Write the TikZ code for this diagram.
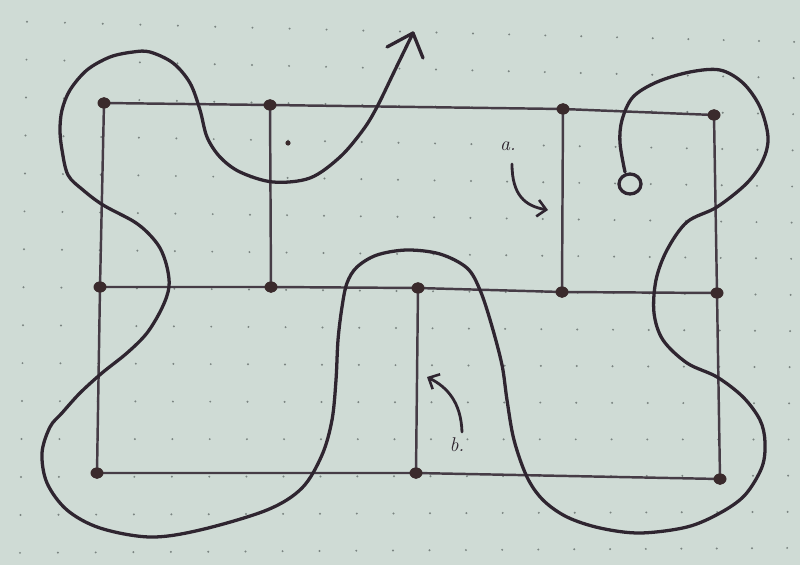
\documentclass[tikz,border=0pt]{standalone}
\usetikzlibrary{arrows.meta}
\definecolor{paper}{HTML}{CFDBD5}
\definecolor{griddot}{HTML}{7A8481}
\definecolor{ink}{HTML}{2F2530}
\definecolor{rectink}{HTML}{463C46}
\definecolor{dotink}{HTML}{3A2A2C}
\tikzset{
  pt/.style={circle,fill=dotink,draw=dotink,inner sep=0pt,minimum size=3.3mm},
  edge/.style={draw=rectink,line width=2.1pt},
  curve/.style={draw=ink,line width=2.8pt,line cap=round,line join=round},
  smallarrow/.style={draw=ink,line width=2.4pt,line cap=round,-{Straight Barb[length=2.6mm,width=5mm,line width=2.2pt]}},
  lbl/.style={text=ink,font=\fontsize{17}{19}\selectfont\itshape,inner sep=0pt}
}
\begin{document}
\begin{tikzpicture}[x=0.3mm,y=-0.3mm]
\fill[paper] (0,0) rectangle (800,565);
\useasboundingbox (0,0) rectangle (800,565);
% dot grid
\foreach \i in {0,...,21}{
  \foreach \j in {0,...,14}{
    \pgfmathsetmacro\gx{27-0.5*\j+38*\i-0.07*\i*\i}
    \pgfmathsetmacro\gy{21+38*\j+(\gx/790)*(20.85-1.85*\j)}
    \fill[griddot] (\gx,\gy) circle (1.1);
  }
}
% nodes
\node[pt] (t1) at (104,103) {};
\node[pt] (t2) at (270,105) {};
\node[pt] (t3) at (563,109) {};
\node[pt] (t4) at (714,115) {};
\node[pt] (m1) at (100,287) {};
\node[pt] (m2) at (271,287) {};
\node[pt] (m3) at (418,288) {};
\node[pt] (m4) at (562,292) {};
\node[pt] (m5) at (717,293) {};
\node[pt] (b1) at (97,473) {};
\node[pt] (b2) at (416,473) {};
\node[pt] (b3) at (720,479) {};
% edges
\draw[edge] (t1.center) -- (t2.center) -- (t3.center) -- (t4.center);
\draw[edge] (m1.center) -- (m2.center) -- (m3.center) -- (m4.center) -- (m5.center);
\draw[edge] (b1.center) -- (b2.center) -- (b3.center);
\draw[edge] (t1.center) -- (m1.center) -- (b1.center);
\draw[edge] (t4.center) -- (m5.center) -- (b3.center);
\draw[edge] (t2.center) -- (m2.center);
\draw[edge] (t3.center) -- (m4.center);
\draw[edge] (m3.center) -- (b2.center);
% redraw node dots on top
\foreach \n in {t1,t2,t3,t4,m1,m2,m3,m4,m5,b1,b2,b3}{
  \fill[dotink] (\n.center) ellipse (6.5 and 5.5);
}
% small pen dot
\fill[dotink] (288,143) circle (2.6);
% the long curve
\coordinate (start) at (625,172);
\coordinate (tip) at (413,33);
\draw[curve] plot[smooth,tension=0.55] coordinates {
(625,172) (620,143) (622,120) (633,97) (657,82) (690,72) (720,70) (743,83) (760,107) (768,137) (763,160) (747,183) (717,207) (687,222) (667,250) (656,280) (654,313) (663,340) (687,363) (717,377) (743,397) (760,420) (765,442) (762,467) (745,495) (720,513) (687,527) (640,533) (600,528) (567,517) (543,500) (527,477) (514,440) (507,400) (502,365) (491,323) (480,290) (467,268) (440,254) (407,250) (377,255) (357,267) (347,283) (342,307) (338,340) (336,380) (332,420) (322,455) (302,488) (267,510) (200,530) (150,537) (100,528) (67,510) (47,483) (42,453) (50,427) (62,413) (80,393) (102,373) (127,353) (147,333) (162,308) (169,287) (167,267) (160,248) (148,233) (133,221) (103,205) (83,190) (68,175) (62,150) (60,130) (62,110) (70,90) (87,70) (110,57) (133,52) (150,52) (173,63) (190,83) (200,110) (207,137) (220,157) (240,172) (273,182) (310,178) (340,157) (363,130) (377,107) (395,70) (413,33)};
\draw[curve] (tip) -- (387,47);
\draw[curve] (tip) -- (423,58);
% small circle at curve start
\draw[curve] (630,184) ellipse (11 and 10);
% labels and small arrows
\node[lbl] (la) at (508,146) {a.};
\node[lbl] (lb) at (457,445) {b.};
\coordinate (a0) at (512,164);
\coordinate (a1) at (548,210);
\draw[smallarrow] (a0) .. controls (512,195) and (525,206) .. (a1);
\coordinate (b0) at (462,432);
\coordinate (b1t) at (427,377);
\draw[smallarrow] (b0) .. controls (461,402) and (447,387) .. (b1t);
\end{tikzpicture}
\end{document}
